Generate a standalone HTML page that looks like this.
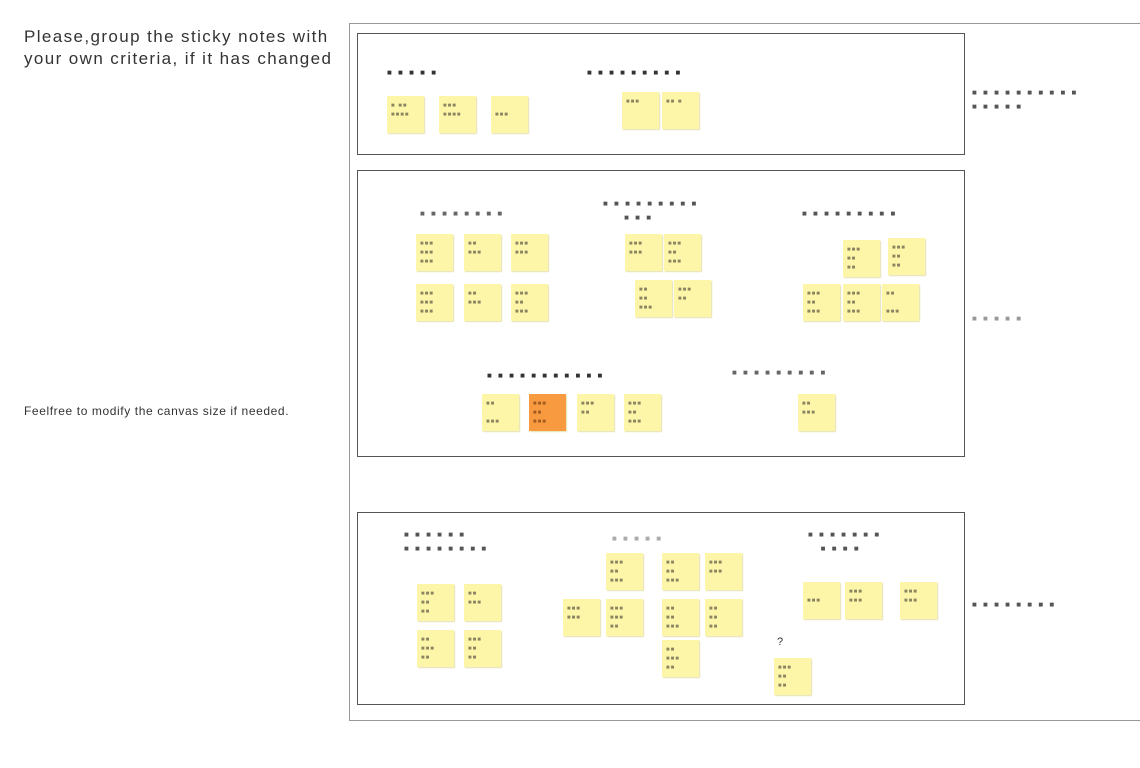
<!DOCTYPE html>
<html><head><meta charset="utf-8"><style>
body{margin:0;width:1140px;height:768px;background:#fff;position:relative;overflow:hidden;font-family:"Liberation Sans",sans-serif}
.a{position:absolute}
.box{position:absolute;border:1px solid #555;box-sizing:border-box}
.s{position:absolute;width:37px;height:37px;background:#fdf6a9;box-shadow:1px 1px 1px #e6e0b0;font-size:6px;font-weight:bold;color:#8a8460;line-height:9px;padding:6px 4px;box-sizing:border-box;overflow:hidden;letter-spacing:1px}
.o{background:#f89a40;color:#a05a20}
.l{position:absolute;font-size:8px;font-weight:bold;color:#333;letter-spacing:2px;white-space:nowrap;line-height:14px}
</style></head><body>
<div class="a" style="left:24px;top:26px;font-size:17px;line-height:22px;color:#333;letter-spacing:1.4px;white-space:nowrap">Please,group the sticky notes with<br>your own criteria, if it has changed</div>
<div class="a" style="left:24px;top:404px;font-size:12px;color:#333;letter-spacing:0.6px;white-space:nowrap">Feelfree to modify the canvas size if needed.</div>
<div class="a" style="left:349px;top:23px;width:791px;height:698px;border:1px solid #999;border-right:none;box-sizing:border-box"></div>
<div class="box" style="left:357px;top:33px;width:608px;height:122px"></div>
<div class="box" style="left:357px;top:170px;width:608px;height:287px"></div>
<div class="box" style="left:357px;top:512px;width:608px;height:193px"></div>

<div class="l" style="left:387px;top:66px">■ ■ ■ ■ ■</div>
<div class="l" style="left:587px;top:66px">■ ■ ■ ■ ■ ■ ■ ■ ■</div>
<div class="l" style="left:972px;top:86px;color:#555">■ ■ ■ ■ ■ ■ ■ ■ ■ ■<br>■ ■ ■ ■ ■</div>
<div class="l" style="left:420px;top:207px;color:#666">■ ■ ■ ■ ■ ■ ■ ■</div>
<div class="l" style="left:603px;top:197px;color:#555">■ ■ ■ ■ ■ ■ ■ ■ ■<br>&nbsp;&nbsp;&nbsp;&nbsp;&nbsp;■ ■ ■</div>
<div class="l" style="left:802px;top:207px;color:#555">■ ■ ■ ■ ■ ■ ■ ■ ■</div>
<div class="l" style="left:487px;top:369px">■ ■ ■ ■ ■ ■ ■ ■ ■ ■ ■</div>
<div class="l" style="left:732px;top:366px;color:#666">■ ■ ■ ■ ■ ■ ■ ■ ■</div>
<div class="l" style="left:972px;top:312px;color:#999">■ ■ ■ ■ ■</div>
<div class="l" style="left:404px;top:528px;color:#555">■ ■ ■ ■ ■ ■<br>■ ■ ■ ■ ■ ■ ■ ■</div>
<div class="l" style="left:612px;top:532px;color:#aaa">■ ■ ■ ■ ■</div>
<div class="l" style="left:808px;top:528px;color:#555">■ ■ ■ ■ ■ ■ ■<br>&nbsp;&nbsp;&nbsp;■ ■ ■ ■</div>
<div class="l" style="left:972px;top:598px;color:#555">■ ■ ■ ■ ■ ■ ■ ■</div>
<div class="a" style="left:777px;top:636px;font-size:11px;color:#333">?</div>

<div class="s" style="left:387px;top:96px">■ ■■<br>■■■■</div>
<div class="s" style="left:439px;top:96px">■■■<br>■■■■</div>
<div class="s" style="left:491px;top:96px"><br>■■■</div>
<div class="s" style="left:622px;top:92px">■■■</div>
<div class="s" style="left:662px;top:92px">■■ ■</div>

<div class="s" style="left:416px;top:234px">■■■<br>■■■<br>■■■</div>
<div class="s" style="left:464px;top:234px">■■<br>■■■</div>
<div class="s" style="left:511px;top:234px">■■■<br>■■■</div>
<div class="s" style="left:416px;top:284px">■■■<br>■■■<br>■■■</div>
<div class="s" style="left:464px;top:284px">■■<br>■■■</div>
<div class="s" style="left:511px;top:284px">■■■<br>■■<br>■■■</div>
<div class="s" style="left:625px;top:234px">■■■<br>■■■</div>
<div class="s" style="left:664px;top:234px">■■■<br>■■<br>■■■</div>
<div class="s" style="left:635px;top:280px">■■<br>■■<br>■■■</div>
<div class="s" style="left:674px;top:280px">■■■<br>■■</div>
<div class="s" style="left:843px;top:240px">■■■<br>■■<br>■■</div>
<div class="s" style="left:888px;top:238px">■■■<br>■■<br>■■</div>
<div class="s" style="left:803px;top:284px">■■■<br>■■<br>■■■</div>
<div class="s" style="left:843px;top:284px">■■■<br>■■<br>■■■</div>
<div class="s" style="left:882px;top:284px">■■<br><br>■■■</div>
<div class="s" style="left:482px;top:394px">■■<br><br>■■■</div>
<div class="s o" style="left:529px;top:394px">■■■<br>■■<br>■■■</div>
<div class="s" style="left:577px;top:394px">■■■<br>■■</div>
<div class="s" style="left:624px;top:394px">■■■<br>■■<br>■■■</div>
<div class="s" style="left:798px;top:394px">■■<br>■■■</div>

<div class="s" style="left:417px;top:584px">■■■<br>■■<br>■■</div>
<div class="s" style="left:464px;top:584px">■■<br>■■■</div>
<div class="s" style="left:417px;top:630px">■■<br>■■■<br>■■</div>
<div class="s" style="left:464px;top:630px">■■■<br>■■<br>■■</div>
<div class="s" style="left:606px;top:553px">■■■<br>■■<br>■■■</div>
<div class="s" style="left:662px;top:553px">■■<br>■■<br>■■■</div>
<div class="s" style="left:705px;top:553px">■■■<br>■■■</div>
<div class="s" style="left:563px;top:599px">■■■<br>■■■</div>
<div class="s" style="left:606px;top:599px">■■■<br>■■■<br>■■</div>
<div class="s" style="left:662px;top:599px">■■<br>■■<br>■■■</div>
<div class="s" style="left:705px;top:599px">■■<br>■■<br>■■</div>
<div class="s" style="left:662px;top:640px">■■<br>■■■<br>■■</div>
<div class="s" style="left:803px;top:582px"><br>■■■</div>
<div class="s" style="left:845px;top:582px">■■■<br>■■■</div>
<div class="s" style="left:900px;top:582px">■■■<br>■■■</div>
<div class="s" style="left:774px;top:658px">■■■<br>■■<br>■■</div>
</body></html>
